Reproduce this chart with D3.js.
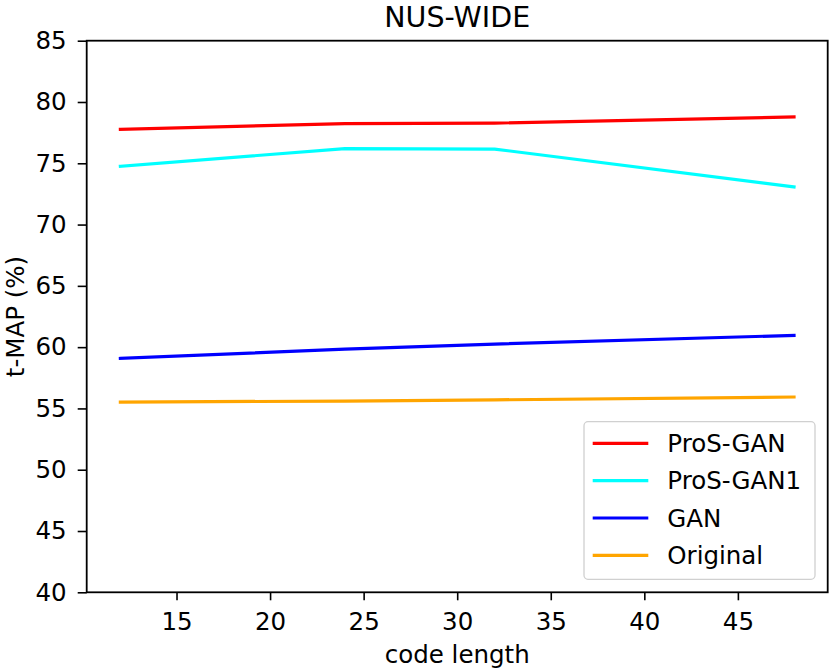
<!DOCTYPE html>
<html>
<head>
<meta charset="utf-8">
<script src="https://cdn.jsdelivr.net/npm/d3@7"></script>
<style>
  html, body { margin: 0; padding: 0; background: #fff; }
  svg { display: block; }
  text { font-family: "DejaVu Sans", sans-serif; }
</style>
</head>
<body>
<svg id="chart" width="831" height="670"></svg>
<script>
const codeLengths = [12, 24, 32, 48];
const seriesNames = ["ProS-GAN", "ProS-GAN1", "GAN", "Original"];
const seriesColors = ["#ff0000", "#00ffff", "#0000ff", "#ffa500"];
const prosGan = [77.77, 78.23, 78.28, 78.78];
const prosGan1 = [74.75, 76.2, 76.16, 73.07];
const gan = [59.08, 59.84, 60.25, 60.96];
const original = [55.52, 55.6, 55.7, 55.93];
const xTicks = [15, 20, 25, 30, 35, 40, 45];
const yTicks = [40, 45, 50, 55, 60, 65, 70, 75, 80, 85];
const titleText = "NUS-WIDE";
const xLabel = "code length";
const yLabel = "t-MAP (%)";

const seriesValues = [prosGan, prosGan1, gan, original];

const svg = d3.select("#chart");
const L = 86.7, R = 827.7, T = 40.7, B = 592.3;
const FS = 24.5;
const TFS = 28.5;

const x = d3.scaleLinear().domain([10.2, 49.8]).range([L, R]);
const y = d3.scaleLinear().domain([40, 85]).range([B, T]);

// lines
const line = d3.line().x(d => x(d[0])).y(d => y(d[1]));
seriesValues.forEach((vals, i) => {
  svg.append("path")
    .datum(codeLengths.map((c, j) => [c, vals[j]]))
    .attr("d", line)
    .attr("fill", "none")
    .attr("stroke", seriesColors[i])
    .attr("stroke-width", 3.2)
    .attr("stroke-linejoin", "round")
    .attr("stroke-linecap", "square");
});

// axes
const xAxis = d3.axisBottom(x).tickValues(xTicks).tickSize(8).tickPadding(12.5).tickFormat(d3.format("d"));
const yAxis = d3.axisLeft(y).tickValues(yTicks).tickSize(9).tickPadding(11).tickFormat(d3.format("d"));

const gx = svg.append("g").attr("transform", `translate(0,${B})`).call(xAxis);
const gy = svg.append("g").attr("transform", `translate(${L},0)`).call(yAxis);
[gx, gy].forEach(g => {
  g.select(".domain").remove();
  g.selectAll(".tick line").attr("stroke", "#000").attr("stroke-width", 1.6);
  g.selectAll(".tick text").attr("fill", "#000").style("font-size", FS + "px").style("font-family", "DejaVu Sans");
});

// frame
svg.append("rect")
  .attr("x", L).attr("y", T).attr("width", R - L).attr("height", B - T)
  .attr("fill", "none").attr("stroke", "#000").attr("stroke-width", 1.8);

// title & labels
svg.append("text").attr("x", (L + R) / 2).attr("y", 26.5)
  .attr("text-anchor", "middle").style("font-size", TFS + "px").text(titleText);
svg.append("text").attr("x", (L + R) / 2).attr("y", 663)
  .attr("text-anchor", "middle").style("font-size", FS + "px").text(xLabel);
svg.append("text")
  .attr("transform", `translate(24,${(T + B) / 2}) rotate(-90)`)
  .attr("text-anchor", "middle").style("font-size", FS + "px").text(yLabel);

// legend
const lg = svg.append("g");
lg.append("rect")
  .attr("x", 584).attr("y", 421.7).attr("width", 231).attr("height", 157.6)
  .attr("rx", 4).attr("ry", 4)
  .attr("fill", "#fff").attr("fill-opacity", 0.8)
  .attr("stroke", "#d0d0d0").attr("stroke-width", 1.3);
seriesNames.forEach((name, i) => {
  const yy = 443.3 + i * 37.35;
  lg.append("line")
    .attr("x1", 592.7).attr("x2", 648.3).attr("y1", yy).attr("y2", yy)
    .attr("stroke", seriesColors[i]).attr("stroke-width", 3.2);
  lg.append("text")
    .attr("x", 667.3).attr("y", yy).attr("dy", "0.36em")
    .style("font-size", FS + "px").text(name);
});
</script>
</body>
</html>
